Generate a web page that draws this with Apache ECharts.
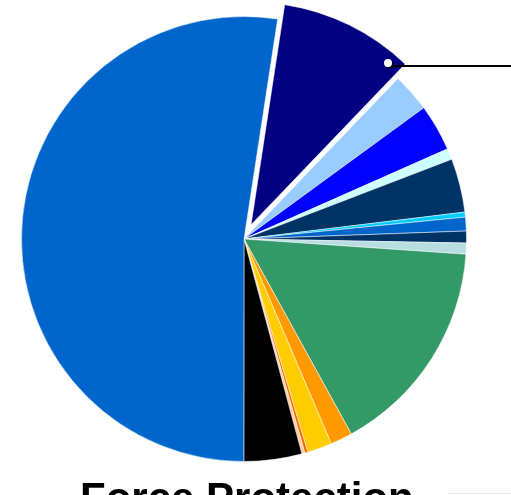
<!DOCTYPE html>
<html>
<head>
<meta charset="utf-8">
<script src="https://cdn.jsdelivr.net/npm/echarts@6/dist/echarts.min.js"></script>
<style>html,body{margin:0;padding:0;background:#fff;}#c{width:511px;height:495px;}</style>
</head>
<body>
<div id="c"></div>
<script>
var categories = ['Segment 1','Segment 2','Segment 3','Segment 4','Segment 5','Segment 6','Segment 7','Segment 8','Segment 9','Segment 10','Segment 11','Segment 12','Segment 13','Segment 14','Segment 15','Segment 16'];
var values = [9.75, 2.8, 3.4, 0.8, 3.9, 0.36, 1.0, 0.86, 0.8, 15.9, 1.6, 1.78, 0.22, 0.22, 4.2, 52.4];
var colors = ['#000080','#99ccff','#0000ff','#ccffff','#003366','#00ccff','#0066cc','#003366','#b7dfe2','#339966','#ff9900','#ffcc00','#ff6600','#ffcc99','#000000','#0066cc'];
var titleText = 'Force Protection';

var chart = echarts.init(document.getElementById('c'), null, {renderer:'canvas'});
var data = categories.map(function(n,i){
  return {name:n, value:values[i], selected: i===0, itemStyle:{color:colors[i]}};
});
chart.setOption({
  animation:false,
  title:{text:titleText, left:75, top:474,
    textStyle:{fontSize:42, fontWeight:'bold', color:'#000', fontFamily:'Liberation Sans, Arial, sans-serif'}},
  series:[{
    type:'pie',
    center:[244,239],
    radius:222.5,
    startAngle:81.3,
    clockwise:true,
    selectedMode:'single',
    selectedOffset:16,
    avoidLabelOverlap:false,
    label:{show:false},
    labelLine:{show:false},
    itemStyle:{borderColor:'#fff', borderWidth:0.5},
    emphasis:{disabled:true},
    data:data
  }],
  graphic:[
    {type:'line', z:100, shape:{x1:390,y1:66,x2:511,y2:66}, style:{stroke:'#000', lineWidth:2}},
    {type:'circle', z:101, shape:{cx:389.5,cy:64.5,r:4}, style:{fill:'#000'}},
    {type:'circle', z:102, shape:{cx:388,cy:63,r:4}, style:{fill:'#fff'}},
    {type:'line', z:100, shape:{x1:447,y1:493.5,x2:511,y2:493.5}, style:{stroke:'#e8e8e8', lineWidth:1}}
  ]
});
</script>
</body>
</html>
